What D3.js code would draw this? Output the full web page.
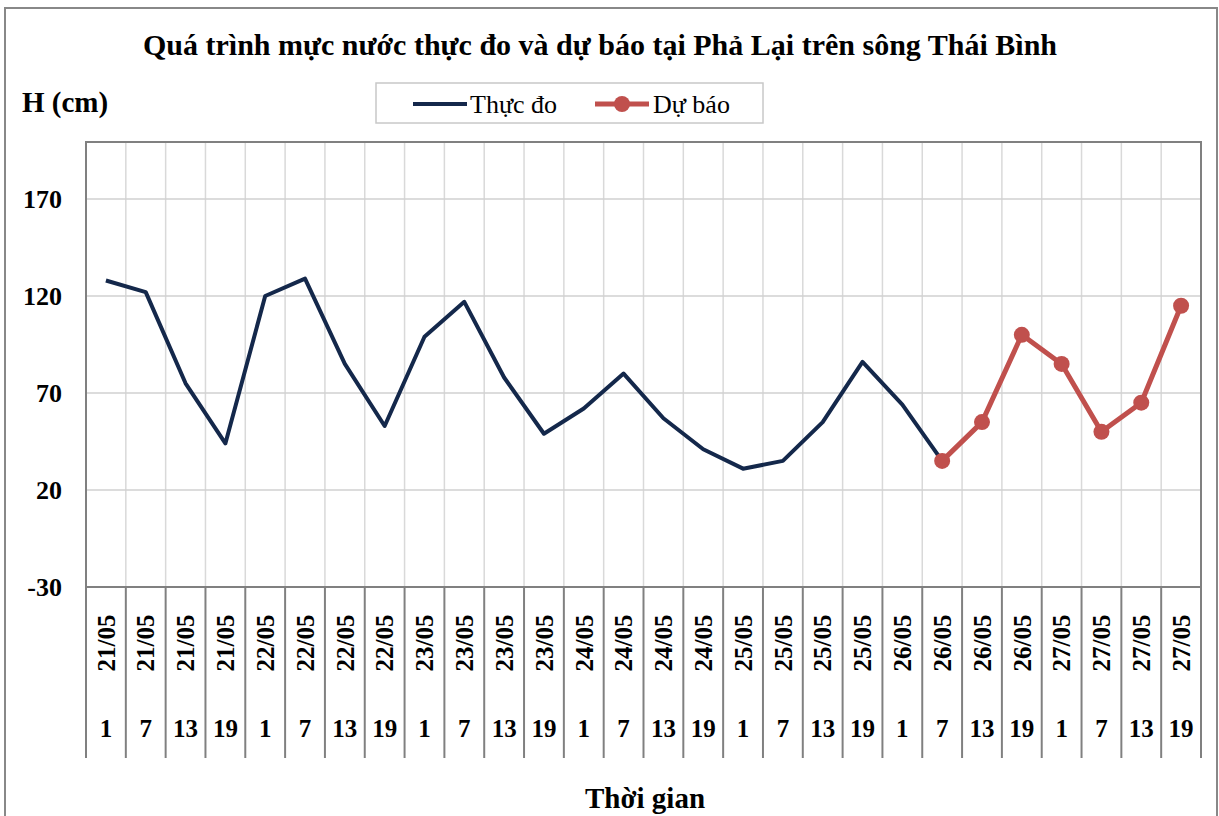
<!DOCTYPE html>
<html>
<head>
<meta charset="utf-8">
<script src="https://cdn.jsdelivr.net/npm/d3@7"></script>
<style>
  body { margin: 0; background: #fff; }
  svg { display: block; font-family: "Liberation Serif", "Times New Roman", serif; }
</style>
</head>
<body>
<svg id="chart" width="1219" height="816"></svg>
<script>
// categories (day / hour)
var days = ["21/05","21/05","21/05","21/05","22/05","22/05","22/05","22/05",
            "23/05","23/05","23/05","23/05","24/05","24/05","24/05","24/05",
            "25/05","25/05","25/05","25/05","26/05","26/05","26/05","26/05",
            "27/05","27/05","27/05","27/05"];
var hours = [1,7,13,19,1,7,13,19,1,7,13,19,1,7,13,19,1,7,13,19,1,7,13,19,1,7,13,19];

// series
var observed = [128,122,75,44,120,129,85,53,99,117,78,49,62,80,57,41,31,35,55,86,64,35];
var forecast = [null,null,null,null,null,null,null,null,null,null,null,null,null,null,
                null,null,null,null,null,null,null,35,55,100,85,50,65,115];

var yTicks = [-30, 20, 70, 120, 170];

var svg = d3.select("#chart"),
    margin = {top: 142, right: 18, bottom: 229, left: 86},
    width = 1219 - margin.left - margin.right,
    height = 816 - margin.top - margin.bottom;

// outer frame
svg.append("rect")
    .attr("x", 5).attr("y", 8)
    .attr("width", 1212).attr("height", 830)
    .attr("fill", "none").attr("stroke", "#888").attr("stroke-width", 2);

var g = svg.append("g").attr("transform", "translate(" + margin.left + "," + margin.top + ")");

var idx = d3.range(days.length);
var x = d3.scaleBand().domain(idx).range([0, width]);
var y = d3.scaleLinear().domain([-30, 199.4]).range([height, 0]);

// grid
g.append("g").selectAll("line")
  .data(idx.slice(1))
  .enter().append("line")
    .attr("x1", function(d) { return x(d); })
    .attr("x2", function(d) { return x(d); })
    .attr("y1", 0).attr("y2", height)
    .attr("stroke", "#d9d9d9").attr("stroke-width", 1.5);

g.append("g").selectAll("line")
  .data(yTicks.slice(1))
  .enter().append("line")
    .attr("x1", 0).attr("x2", width)
    .attr("y1", function(d) { return y(d); })
    .attr("y2", function(d) { return y(d); })
    .attr("stroke", "#d0d0d0").attr("stroke-width", 1.5);

// plot frame
g.append("rect")
    .attr("width", width).attr("height", height)
    .attr("fill", "none").attr("stroke", "#808080").attr("stroke-width", 2);

// y axis labels
g.append("g").selectAll("text")
  .data(yTicks)
  .enter().append("text")
    .attr("x", -24)
    .attr("y", function(d) { return y(d); })
    .attr("dy", "0.35em")
    .attr("text-anchor", "end")
    .attr("font-size", 26)
    .attr("font-weight", "bold")
    .text(function(d) { return d; });

// two level category axis
var catBottom = 171;
var cat = g.append("g").attr("transform", "translate(0," + height + ")");

cat.selectAll("line")
  .data(d3.range(days.length + 1))
  .enter().append("line")
    .attr("x1", function(d) { return d * x.bandwidth(); })
    .attr("x2", function(d) { return d * x.bandwidth(); })
    .attr("y1", 0).attr("y2", catBottom)
    .attr("stroke", "#808080").attr("stroke-width", 2);

cat.selectAll("text.day")
  .data(idx)
  .enter().append("text")
    .attr("class", "day")
    .attr("transform", function(d) {
      return "translate(" + (x(d) + x.bandwidth() / 2) + ",56) rotate(-90)";
    })
    .attr("text-anchor", "middle")
    .attr("dy", "0.35em")
    .attr("font-size", 25)
    .attr("font-weight", "bold")
    .text(function(d) { return days[d]; });

cat.selectAll("text.hour")
  .data(idx)
  .enter().append("text")
    .attr("class", "hour")
    .attr("x", function(d) { return x(d) + x.bandwidth() / 2; })
    .attr("y", 150)
    .attr("text-anchor", "middle")
    .attr("font-size", 25)
    .attr("font-weight", "bold")
    .text(function(d) { return hours[d]; });

// lines
var line = d3.line()
    .defined(function(d) { return d != null; })
    .x(function(d, i) { return x(i) + x.bandwidth() / 2; })
    .y(function(d) { return y(d); });

g.append("path")
    .datum(observed)
    .attr("fill", "none")
    .attr("stroke", "#14284b")
    .attr("stroke-width", 4)
    .attr("stroke-linejoin", "round")
    .attr("d", line);

g.append("path")
    .datum(forecast)
    .attr("fill", "none")
    .attr("stroke", "#c0504d")
    .attr("stroke-width", 5)
    .attr("stroke-linejoin", "round")
    .attr("d", line);

g.append("g").selectAll("circle")
  .data(idx.filter(function(i) { return forecast[i] != null; }))
  .enter().append("circle")
    .attr("cx", function(i) { return x(i) + x.bandwidth() / 2; })
    .attr("cy", function(i) { return y(forecast[i]); })
    .attr("r", 8)
    .attr("fill", "#c0504d");

// title and axis titles
svg.append("text")
    .attr("x", 600).attr("y", 55)
    .attr("text-anchor", "middle")
    .attr("font-size", 30)
    .attr("font-weight", "bold")
    .text("Quá trình mực nước thực đo và dự báo tại Phả Lại trên sông Thái Bình");

svg.append("text")
    .attr("x", 22).attr("y", 112)
    .attr("font-size", 29)
    .attr("font-weight", "bold")
    .text("H (cm)");

svg.append("text")
    .attr("x", 645).attr("y", 808)
    .attr("text-anchor", "middle")
    .attr("font-size", 29)
    .attr("font-weight", "bold")
    .text("Thời gian");

// legend
var legend = svg.append("g").attr("transform", "translate(376,83)");
legend.append("rect")
    .attr("width", 387).attr("height", 40)
    .attr("fill", "#fff").attr("stroke", "#c8c8c8").attr("stroke-width", 1.5);
legend.append("line")
    .attr("x1", 37).attr("x2", 91).attr("y1", 21).attr("y2", 21)
    .attr("stroke", "#14284b").attr("stroke-width", 4);
legend.append("text")
    .attr("x", 94).attr("y", 21).attr("dy", "0.35em")
    .attr("font-size", 26)
    .text("Thực đo");
legend.append("line")
    .attr("x1", 219).attr("x2", 273).attr("y1", 21).attr("y2", 21)
    .attr("stroke", "#c0504d").attr("stroke-width", 5);
legend.append("circle")
    .attr("cx", 246).attr("cy", 21).attr("r", 8)
    .attr("fill", "#c0504d");
legend.append("text")
    .attr("x", 277).attr("y", 21).attr("dy", "0.35em")
    .attr("font-size", 26)
    .text("Dự báo");
</script>
</body>
</html>
